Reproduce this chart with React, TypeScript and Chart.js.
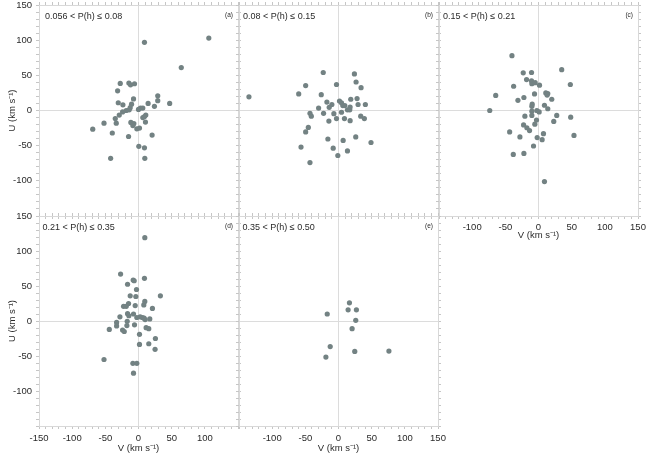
import React, { useEffect, useRef } from 'react';
import { Chart, registerables } from 'chart.js';
Chart.register(...registerables);

// ---- data: V (x) and U (y) velocities in km/s for each probability bin ----
const aV = [106, 9, 64.5, -27.5, -14.5, -12, -6, -31.5, -7.5, -30.5, -23.5, -10.5, 29, 29, 14.5, 47, 24, -18.5, -14, -12.5, -24, 3, 6.5, 0, -29, -35, -33.5, -11.5, -7, -8.5, 6.5, 9, 11, 10.5, -2.5, 1.5, -52, -69, -39.5, -15, 20.5, 0.5, 9, -42, 9.5];
const aU = [103, 97, 61, 38.5, 39, 36.5, 38, 28, 16.5, 11, 8, 9, 21, 14, 10, 10, 6, 0, 1, 4, -2, 3.5, 3.5, 1.5, -6.5, -11.5, -18, -17, -18.5, -21.5, -10, -8.5, -6.5, -16.5, -26, -25, -18, -26.5, -32, -37, -35, -51, -53, -68, -68];

const bV = [-135, -23, 24, 26.5, -49.5, -3, 34, -60, -26, -17.5, -10, -14, -30, 1.5, 4.5, 6.5, 9.5, 18.5, 28, 29.5, 40.5, 17.5, 13.5, 17, 4.5, -22.5, -7, -43, -41, -3, 9, -14.5, 17.5, 33.5, 39, -45.5, -49.5, -16, 7, 26, 49, -56.5, -8, 13.5, -1, -43];
const bU = [19.5, 54, 52, 40.5, 35.5, 37, 32.5, 23.5, 22.5, 12, 8.5, 4.5, 3.5, 13.5, 11, 7, 7, 16, 17, 8.5, 8.5, 5, 1, 1, -2.5, -4, -4.5, -4, -8, -11.5, -11.5, -15, -14.5, -8, -11.5, -24, -30.5, -40.5, -42.5, -37.5, -45.5, -52, -53.5, -57.5, -64, -74];

const cV = [-40, 35, -23, -10.5, -18, -10.5, -10, -5, 1.5, 48, -37.5, -64.5, 11, 14, 13, -6, -22, -31, 20, -9.5, -10, 9, 14, -73.5, -10, -2.5, 1, -20.5, -10, 27.5, 48.5, -3, 23, -5.5, -22.5, -17.5, -13.5, -43.5, 7.5, -28, -2, 5.5, 53.5, -7.5, -38, -22, 9];
const cU = [78, 58, 53.5, 54, 44, 42, 38, 39.5, 36, 37, 34.5, 21.5, 25, 24, 22, 23.5, 18.5, 14.5, 16, 9, 6, 7.5, 2.5, 0, -1, 0, -2, -8, -7, -7, -9.5, -13.5, -15.5, -19.5, -20.5, -24.5, -28.5, -30.5, -33, -37.5, -38.5, -41.5, -35.5, -50.5, -62.5, -61, -101];

const dV = [9.5, -27, 9, -8, -6.5, -16.5, -3, -12.5, -4, 33, -15, 9.5, 8, -22.5, -18.5, -5, 21, -16.5, -14.5, -7.5, -28, -2.5, 2.5, 6, 8.5, 10, 17, -33, -33, -17, -17.5, -6, -44, -24, -21.5, 11.5, 15.5, 1.5, 25.5, 1.5, 15.5, 25, -52, -8.5, -2.5, -7.5];
const dU = [119, 67, 61, 58.5, 57.5, 52.5, 45, 36, 35, 36, 25, 28, 23, 21, 21, 22, 18, 10.5, 7.5, 10, 6, 5, 6, 5, 4, 2, 3, -2, -7, -0.5, -6.5, -5.5, -12, -13, -15, -9.5, -11, -19, -25, -33.5, -32.5, -40.5, -55, -60.5, -60.5, -74.5];

const eV = [16.5, 14.5, 27, -17, 26, 20.5, -12.5, 24.5, 76, -19];
const eU = [26, 16, 16, 10, 1, -11, -36.5, -43.5, -43, -51.5];

const rangeLabels = ['0.056 < P(h) ≤ 0.08', '0.08 < P(h) ≤ 0.15', '0.15 < P(h) ≤ 0.21', '0.21 < P(h) ≤ 0.35', '0.35 < P(h) ≤ 0.50'];
const panelTags = ['(a)', '(b)', '(c)', '(d)', '(e)'];

const yTickLabels = [150, 100, 50, 0, -50, -100];
const xTickLabelsLeft = [-150, -100, -50, 0, 50, 100];
const xTickLabelsRight = [-100, -50, 0, 50, 100, 150];

const AXIS_MIN = -150;
const AXIS_MAX = 150;
const STEP = 10;
const X_TITLE = 'V (km s⁻¹)';
const Y_TITLE = 'U (km s⁻¹)';

// ---- layout / style ----
const W = 646;
const H = 454;
const FONT = 'Liberation Sans, Arial, Helvetica, sans-serif';
const POINT = '#738283';
const FRAME = '#d8d8d8';
const ZERO = '#dcdcdc';
const TICK = '#c6c6c6';
const TEXT = '#2a2a2a';

type Panel = {
  v: number[]; u: number[]; idx: number;
  left: number; top: number; right: number; bottom: number;
  yLabels: number[] | null; xLabels: number[] | null;
  xTitle: boolean; yTitle: boolean; xPad: number; xH: number;
  textX: number;
};

const panels: Panel[] = [
  { v: aV, u: aU, idx: 0, left: 39, top: 5, right: 238, bottom: 216, yLabels: yTickLabels, xLabels: null, xTitle: false, yTitle: true, xPad: 4, xH: 0, textX: 45 },
  { v: bV, u: bU, idx: 1, left: 239, top: 5, right: 438, bottom: 216, yLabels: null, xLabels: null, xTitle: false, yTitle: false, xPad: 4, xH: 0, textX: 243 },
  { v: cV, u: cU, idx: 2, left: 439, top: 5, right: 638, bottom: 216, yLabels: null, xLabels: xTickLabelsRight, xTitle: true, yTitle: false, xPad: 3, xH: 25, textX: 443 },
  { v: dV, u: dU, idx: 3, left: 39, top: 216, right: 238, bottom: 426, yLabels: yTickLabels, xLabels: xTickLabelsLeft, xTitle: true, yTitle: true, xPad: 4, xH: 28, textX: 42.5 },
  { v: eV, u: eU, idx: 4, left: 239, top: 216, right: 438, bottom: 426, yLabels: null, xLabels: xTickLabelsRight, xTitle: true, yTitle: false, xPad: 4, xH: 28, textX: 242.5 },
];

function fixSize(size: number) {
  return (scale: any) => {
    if (scale.isHorizontal()) scale.height = size; else scale.width = size;
    scale.paddingLeft = 0; scale.paddingRight = 0; scale.paddingTop = 0; scale.paddingBottom = 0;
  };
}

function tickCallback(allowed: number[] | null) {
  return (val: any) => {
    const n = Math.round(Number(val));
    return allowed && allowed.includes(n) ? String(n) : '';
  };
}

function axis(position: string, opts: { labels: number[] | null; size: number; pad: number; main: boolean; title: boolean; titleText: string }) {
  return {
    type: 'linear',
    position,
    min: AXIS_MIN,
    max: AXIS_MAX,
    afterFit: fixSize(opts.size),
    ticks: {
      stepSize: STEP,
      autoSkip: false,
      maxRotation: 0,
      minRotation: 0,
      display: !!opts.labels,
      padding: opts.pad,
      color: TEXT,
      font: { family: FONT, size: 9.5 },
      callback: tickCallback(opts.labels),
    },
    grid: {
      display: true,
      drawOnChartArea: opts.main,
      drawTicks: true,
      tickLength: 3,
      tickColor: TICK,
      color: (ctx: any) => (ctx.tick && ctx.tick.value === 0 ? ZERO : 'rgba(0,0,0,0)'),
      lineWidth: 1,
    },
    border: { display: true, color: FRAME, width: 1 },
    title: {
      display: opts.title,
      text: opts.titleText,
      color: TEXT,
      font: { family: FONT, size: 9.5 },
      padding: { top: 7, bottom: 0 },
    },
  };
}

function buildConfig(p: Panel) {
  const yW = p.yLabels ? p.left : 0;
  const xH = p.xLabels ? p.xH : 0;
  const labelPlugin = {
    id: 'panelText' + p.idx,
    afterDraw(chart: any) {
      const ctx = chart.ctx;
      const area = chart.chartArea;
      ctx.save();
      ctx.fillStyle = TEXT;
      ctx.textBaseline = 'middle';
      ctx.font = '9px ' + FONT;
      ctx.textAlign = 'left';
      ctx.fillText(rangeLabels[p.idx], p.textX, area.top + 12);
      ctx.font = '6.5px ' + FONT;
      ctx.textAlign = 'right';
      ctx.fillText(panelTags[p.idx], area.right - 5, area.top + 10);
      ctx.restore();
    },
  };
  return {
    type: 'scatter',
    data: {
      datasets: [
        {
          data: p.v.map((v, i) => ({ x: v, y: p.u[i] })),
          backgroundColor: POINT,
          borderWidth: 0,
          pointRadius: 2.6,
          pointHoverRadius: 2.6,
          xAxisID: 'x',
          yAxisID: 'y',
        },
      ],
    },
    options: {
      animation: false,
      responsive: false,
      devicePixelRatio: 1,
      events: [],
      layout: {
        padding: {
          left: p.left - yW,
          top: p.top,
          right: W - p.right,
          bottom: H - p.bottom - xH,
        },
      },
      plugins: { legend: { display: false }, tooltip: { enabled: false } },
      scales: {
        x: axis('bottom', { labels: p.xLabels, size: xH, pad: p.xPad, main: true, title: p.xTitle, titleText: X_TITLE }),
        x2: axis('top', { labels: null, size: 0, pad: 0, main: false, title: false, titleText: '' }),
        y: axis('left', { labels: p.yLabels, size: yW, pad: 4, main: true, title: p.yTitle, titleText: Y_TITLE }),
        y2: axis('right', { labels: null, size: 0, pad: 0, main: false, title: false, titleText: '' }),
      },
    },
    plugins: [labelPlugin],
  };
}

function PanelCanvas({ panel }: { panel: Panel }) {
  const ref = useRef<HTMLCanvasElement | null>(null);
  useEffect(() => {
    if (!ref.current) return;
    const chart = new Chart(ref.current, buildConfig(panel) as any);
    return () => chart.destroy();
  }, [panel]);
  return (
    <canvas
      ref={ref}
      width={W}
      height={H}
      style={{ position: 'absolute', left: 0, top: 0, width: W, height: H }}
    />
  );
}

export default function App() {
  return (
    <div style={{ position: 'fixed', left: 0, top: 0, width: W, height: H, background: '#ffffff', overflow: 'hidden' }}>
      {panels.map((p) => (
        <PanelCanvas key={p.idx} panel={p} />
      ))}
    </div>
  );
}
